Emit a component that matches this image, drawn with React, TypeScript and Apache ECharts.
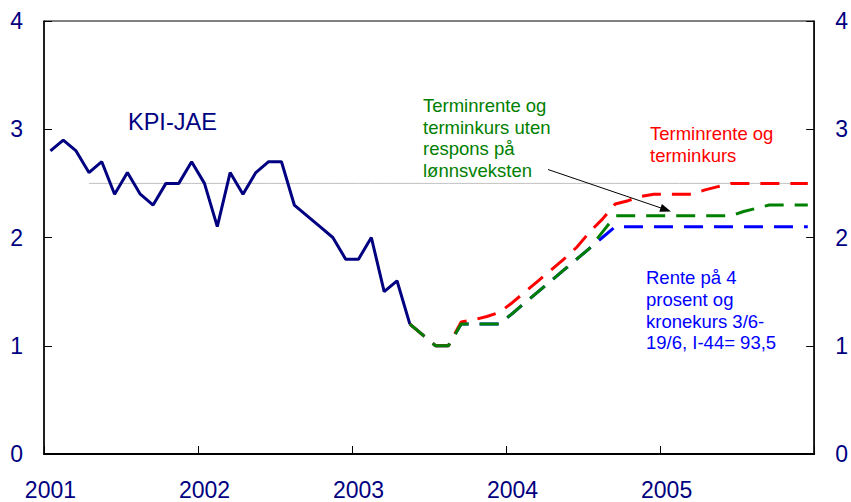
import React, { useEffect, useRef } from "react";
import * as echarts from "echarts";

// Years on the x axis (monthly bands)
const years = [2001, 2002, 2003, 2004, 2005];
const xTickLabels = ["2001", "2002", "2003", "2004", "2005"];
const yTicks = [0, 1, 2, 3, 4];

// KPI-JAE, monthly from Jan 2001 to May 2003
const kpiJae = [
  2.8, 2.9, 2.8, 2.6, 2.7, 2.4, 2.6, 2.4, 2.3, 2.5, 2.5, 2.7,
  2.5, 2.1, 2.6, 2.4, 2.6, 2.7, 2.7, 2.3, 2.2, 2.1, 2.0, 1.8,
  1.8, 2.0, 1.5, 1.6, 1.2,
];

// Projections, monthly from May 2003 to Dec 2005
const forecastStart = 28;
const rentePa4 = [
  1.2, 1.1, 1.0, 1.0, 1.2, 1.2, 1.2, 1.2, 1.3, 1.4, 1.5, 1.6,
  1.7, 1.8, 1.9, 2.0, 2.1, 2.1, 2.1, 2.1, 2.1, 2.1, 2.1, 2.1,
  2.1, 2.1, 2.1, 2.1, 2.1, 2.1, 2.1, 2.1,
];
const terminrente = [
  1.2, 1.1, 1.0, 1.0, 1.22, 1.24, 1.27, 1.31, 1.4, 1.5, 1.6, 1.7,
  1.8, 1.91, 2.05, 2.17, 2.31, 2.34, 2.38, 2.4, 2.4, 2.4, 2.4, 2.44,
  2.47, 2.5, 2.5, 2.5, 2.5, 2.5, 2.5, 2.5,
];
const utenRespons = [
  1.2, 1.1, 1.0, 1.0, 1.2, 1.2, 1.2, 1.2, 1.3, 1.4, 1.5, 1.6,
  1.7, 1.8, 1.9, 2.05, 2.2, 2.2, 2.2, 2.2, 2.2, 2.2, 2.2, 2.2,
  2.2, 2.2, 2.24, 2.27, 2.3, 2.3, 2.3, 2.3,
];

// Inflation target line
const targetValue = 2.5;
const targetStartIndex = 3;

const NAVY = "#000080";
const FONT = "Arial, 'Liberation Sans', sans-serif";

export default function App() {
  const ref = useRef<HTMLDivElement>(null);

  useEffect(() => {
    if (!ref.current) return;
    const chart = echarts.init(ref.current, undefined, { renderer: "svg" });

    const categories: string[] = [];
    years.forEach((y) => {
      for (let m = 1; m <= 12; m++) categories.push(`${y}-${String(m).padStart(2, "0")}`);
    });
    const n = categories.length;
    const pad = (arr: number[], start: number) => {
      const out: (number | null)[] = new Array(n).fill(null);
      arr.forEach((v, i) => (out[start + i] = v));
      return out;
    };
    const target = categories.map((_, i) => (i >= targetStartIndex ? targetValue : null));

    const yAxisBase = (pos: "left" | "right") => ({
      type: "value" as const,
      position: pos,
      min: 0,
      max: 4,
      interval: 1,
      axisLine: { show: true, lineStyle: { color: "#000", width: 1.5 } },
      axisTick: { show: true, inside: true, length: 8, lineStyle: { color: "#000", width: 1 } },
      axisLabel: {
        margin: 21,
        color: NAVY,
        fontSize: 23,
        fontFamily: FONT,
        formatter: (v: number) => (yTicks.includes(v) ? String(v) : ""),
      },
      splitLine: { show: false },
    });

    const dashed = (color: string) => ({
      color,
      width: 3,
      type: [19, 11] as number[],
    });

    chart.setOption({
      animation: false,
      backgroundColor: "#fff",
      grid: {
        left: 44,
        right: 32,
        top: 21,
        bottom: 48,
        show: true,
        borderColor: "#000",
        borderWidth: 1,
        backgroundColor: "transparent",
      },
      xAxis: [
        {
          type: "category",
          data: categories,
          boundaryGap: true,
          axisLine: { show: true, lineStyle: { color: "#000", width: 2 } },
          axisTick: { show: true, inside: true, length: 8, interval: 11, lineStyle: { color: "#000", width: 1 } },
          axisLabel: {
            interval: 11,
            margin: 24,
            color: NAVY,
            fontSize: 23,
            fontFamily: FONT,
            formatter: (v: string) => {
              const y = v.slice(0, 4);
              return xTickLabels.includes(y) ? y : "";
            },
          },
          splitLine: { show: false },
        },
        {
          type: "category",
          position: "top",
          data: categories,
          boundaryGap: true,
          axisLine: { show: true, lineStyle: { color: "#000", width: 1 } },
          axisTick: { show: false },
          axisLabel: { show: false },
          splitLine: { show: false },
        },
      ],
      yAxis: [yAxisBase("left"), yAxisBase("right")],
      series: [
        {
          name: "Mål",
          type: "line",
          data: target,
          symbol: "none",
          lineStyle: { color: "#c0c0c0", width: 1 },
          z: 1,
        },
        {
          name: "KPI-JAE",
          type: "line",
          data: pad(kpiJae, 0),
          symbol: "none",
          lineStyle: { color: NAVY, width: 3 },
          z: 2,
        },
        {
          name: "Rente på 4 prosent",
          type: "line",
          data: pad(rentePa4, forecastStart),
          symbol: "none",
          lineStyle: dashed("#0000ff"),
          z: 3,
        },
        {
          name: "Terminrente og terminkurs",
          type: "line",
          data: pad(terminrente, forecastStart),
          symbol: "none",
          lineStyle: dashed("#ff0000"),
          z: 4,
        },
        {
          name: "Uten respons på lønnsveksten",
          type: "line",
          data: pad(utenRespons, forecastStart),
          symbol: "none",
          lineStyle: dashed("#008000"),
          z: 5,
        },
      ],
      graphic: [
        {
          type: "text",
          style: {
            text: "KPI-JAE",
            x: 128,
            y: 121.5,
            fill: NAVY,
            fontSize: 23.5,
            fontFamily: FONT,
            verticalAlign: "middle",
          },
        },
        {
          type: "text",
          style: {
            text: "Terminrente og\nterminkurs uten\nrespons på\nlønnsveksten",
            x: 423,
            y: 95,
            fill: "#008000",
            fontSize: 18.5,
            lineHeight: 21.5,
            fontFamily: FONT,
            verticalAlign: "top",
          },
        },
        {
          type: "text",
          style: {
            text: "Terminrente og\nterminkurs",
            x: 650,
            y: 123,
            fill: "#ff0000",
            fontSize: 18.5,
            lineHeight: 21.5,
            fontFamily: FONT,
            verticalAlign: "top",
          },
        },
        {
          type: "text",
          style: {
            text: "Rente på 4\nprosent og\nkronekurs 3/6-\n19/6, I-44= 93,5",
            x: 646,
            y: 267,
            fill: "#0000ff",
            fontSize: 18.5,
            lineHeight: 21.7,
            fontFamily: FONT,
            verticalAlign: "top",
          },
        },
        {
          type: "line",
          shape: { x1: 548, y1: 169.5, x2: 664, y2: 209 },
          style: { stroke: "#000", lineWidth: 1 },
          z: 10,
        },
        {
          type: "polygon",
          shape: { points: [[671, 211.5], [661.9, 204.1], [659.3, 211.7]] },
          style: { fill: "#000" },
          z: 10,
        },
      ],
    });

    return () => chart.dispose();
  }, []);

  return (
    <div
      ref={ref}
      style={{ position: "fixed", left: 0, top: 0, width: 851, height: 502, background: "#fff" }}
    />
  );
}
